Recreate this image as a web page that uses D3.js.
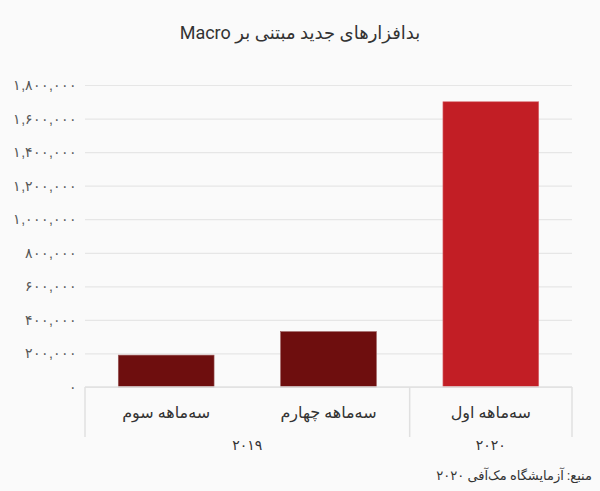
<!DOCTYPE html>
<html>
<head>
<meta charset="utf-8">
<script src="https://cdn.jsdelivr.net/npm/d3@7"></script>
<style>
  body { margin: 0; background: #fafafa; }
  svg { display: block; font-family: Roboto, "DejaVu Sans", sans-serif; }
</style>
</head>
<body>
<div id="chart"></div>
<script>
var categories = [ "سه‌ماهه سوم", "سه‌ماهه چهارم", "سه‌ماهه اول" ];
var years = [ "2019", "2019", "2020" ];
var yearGroups = [ { year: "2019", count: 2 }, { year: "2020", count: 1 } ];
var values = [ 190000, 330000, 1700000 ];
var yTicks = [ 0, 200000, 400000, 600000, 800000, 1000000, 1200000, 1400000, 1600000, 1800000 ];

var W = 600, H = 491;
var margin = { top: 85, right: 28, bottom: 104, left: 85 };

// persian digits
var fa = function( s ){
  return String( s ).replace( /[0-9]/g, function( d ){ return "۰۱۲۳۴۵۶۷۸۹"[ +d ]; } );
};

var svg = d3.select( "#chart" )
  .append( "svg" )
  .attr( "width", W )
  .attr( "height", H );

svg.append( "rect" ).attr( "width", W ).attr( "height", H ).attr( "fill", "#fafafa" );

var x = d3.scaleBand()
  .domain( d3.range( categories.length ) )
  .range( [ margin.left, W - margin.right ] )
  .paddingInner( 0.41 )
  .paddingOuter( 0.205 );

var y = d3.scaleLinear()
  .domain( [ 0, 1800000 ] )
  .range( [ H - margin.bottom, margin.top ] );

var fmt = d3.format( "," );

// grid + y labels
var yAxis = svg.append( "g" )
  .attr( "transform", "translate(" + margin.left + ",0)" )
  .call( d3.axisLeft( y ).tickValues( yTicks ).tickSize( -( W - margin.left - margin.right ) ).tickPadding( 8 ).tickFormat( function( d ){ return fa( fmt( d ) ); } ) );
yAxis.select( ".domain" ).remove();
yAxis.selectAll( ".tick line" ).attr( "stroke", "#e6e6e6" ).attr( "stroke-width", 1.2 );
yAxis.selectAll( ".tick text" )
  .attr( "fill", "#555" )
  .style( "font-size", "14px" );

// bars
svg.append( "g" ).selectAll( "rect" )
  .data( values )
  .join( "rect" )
  .attr( "x", function( d, i ){ return x( i ); } )
  .attr( "width", x.bandwidth() )
  .attr( "y", function( d ){ return y( d ); } )
  .attr( "height", function( d ){ return y( 0 ) - y( d ); } )
  .attr( "fill", function( d, i ){ return years[ i ] === "2020" ? "#c21e25" : "#6e0e0e"; } )
  .attr( "stroke", function( d, i ){ return years[ i ] === "2020" ? "#d96a6e" : "#9a5a5a"; } )
  .attr( "stroke-width", 0.6 );

// category axis
var y0 = y( 0 );
svg.append( "line" )
  .attr( "x1", margin.left ).attr( "x2", W - margin.right )
  .attr( "y1", y0 ).attr( "y2", y0 )
  .attr( "stroke", "#e0e0e0" ).attr( "stroke-width", 1.5 );

var start = margin.left;
var bounds = [ start ];
yearGroups.forEach( function( g ){
  start += g.count * ( ( W - margin.left - margin.right ) / categories.length );
  bounds.push( start );
} );

svg.append( "g" ).selectAll( "line" )
  .data( bounds )
  .join( "line" )
  .attr( "x1", function( d ){ return d; } ).attr( "x2", function( d ){ return d; } )
  .attr( "y1", y0 ).attr( "y2", y0 + 50 )
  .attr( "stroke", "#e0e0e0" ).attr( "stroke-width", 1.5 );

svg.append( "g" ).selectAll( "text" )
  .data( categories )
  .join( "text" )
  .attr( "x", function( d, i ){ return x( i ) + x.bandwidth() / 2; } )
  .attr( "y", y0 + 31 )
  .attr( "text-anchor", "middle" )
  .attr( "fill", "#333" )
  .style( "font-size", "16px" )
  .text( function( d ){ return d; } );

svg.append( "g" ).selectAll( "text" )
  .data( yearGroups )
  .join( "text" )
  .attr( "x", function( d, i ){ return ( bounds[ i ] + bounds[ i + 1 ] ) / 2; } )
  .attr( "y", y0 + 63 )
  .attr( "text-anchor", "middle" )
  .attr( "fill", "#333" )
  .style( "font-size", "14px" )
  .text( function( d ){ return fa( d.year ); } );

// title
svg.append( "text" )
  .attr( "x", W / 2 )
  .attr( "y", 39 )
  .attr( "text-anchor", "middle" )
  .attr( "fill", "#333" )
  .style( "font-size", "18px" )
  .attr( "direction", "rtl" )
  .text( "بدافزارهای جدید مبتنی بر Macro" );

// source
svg.append( "text" )
  .attr( "x", 592 )
  .attr( "y", 480 )
  .attr( "text-anchor", "start" )
  .attr( "direction", "rtl" )
  .attr( "fill", "#333" )
  .style( "font-size", "13px" )
  .text( "منبع: آزمایشگاه مک‌آفی " + fa( "2020" ) );
</script>
</body>
</html>
